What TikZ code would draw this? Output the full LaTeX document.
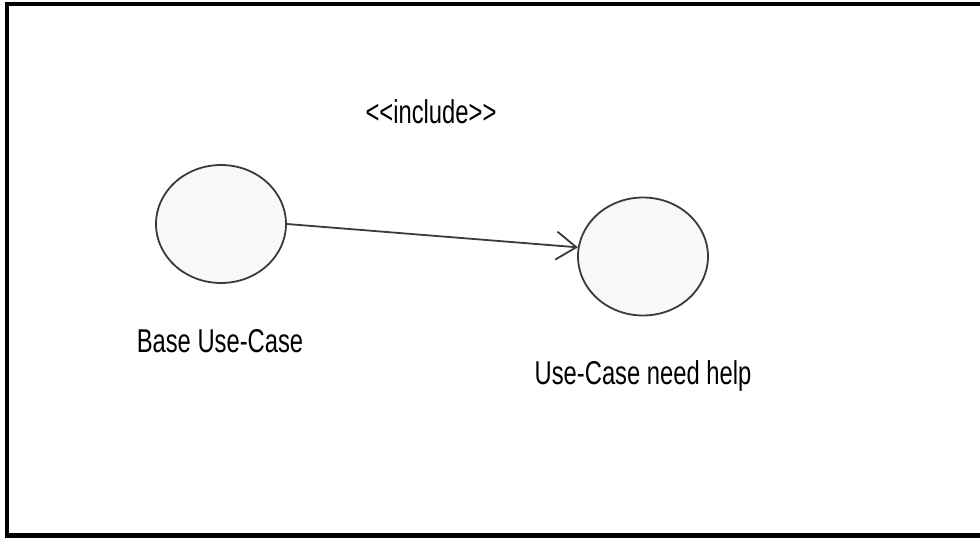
\documentclass[tikz,border=0pt]{standalone}
\usepackage{fontspec}
\setmainfont{Liberation Sans}
\usetikzlibrary{arrows.meta,shapes.geometric}
\definecolor{ucfill}{HTML}{F8F8F8}
\definecolor{ucline}{HTML}{3A3A3A}
\newcommand\narrowtext[1]{\scalebox{0.72}[1]{#1}}
\begin{document}
\begin{tikzpicture}[x=1pt,y=-1pt,
  usecase/.style={ellipse, draw=ucline, fill=ucfill, line width=1.8pt,
    minimum width=130pt, minimum height=118pt, inner sep=0pt},
  lbl/.style={font=\fontsize{33}{38}\selectfont, inner sep=0pt, anchor=center},
  incl/.style={draw=ucline, line width=1.8pt, -{Straight Barb[length=20pt,width=28pt,line width=1.8pt]}}]
\useasboundingbox (0,0) rectangle (980,540);
\clip (0,0) rectangle (980,540);
\draw[line width=4.5pt] (7,4) rectangle (1000,535.5);
\node[usecase] (base) at (221,224) {};
\node[usecase] (help) at (643,256.5) {};
\node[lbl] (inclabel) at (431,112) {\narrowtext{<{}<include>{}>}};
\node[lbl] (baselabel) at (220,341) {\narrowtext{Base Use-Case}};
\node[lbl] (helplabel) at (643,376) {\narrowtext{Use-Case need help}};
\draw[incl] (base.east) -- (help.172);
\end{tikzpicture}
\end{document}
